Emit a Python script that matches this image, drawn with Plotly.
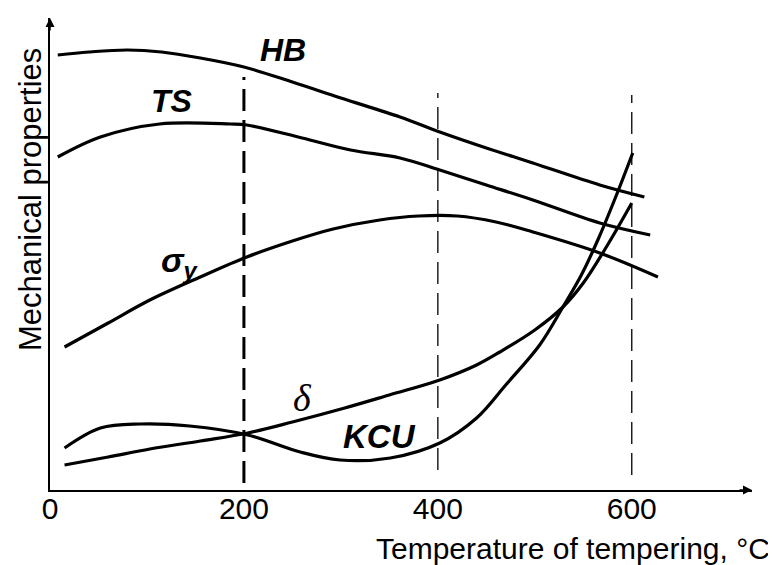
import plotly.graph_objects as go

# ---- data (temperature of tempering, °C ; relative property level) ----
hb_t = [8, 40, 80, 115, 155, 200, 250, 300, 361, 402, 450, 498, 567, 613]
hb_v = [435, 438, 440, 438, 432, 423, 408, 392, 373, 358, 342, 327, 305, 293]

ts_t = [8, 52, 113, 186, 203, 260, 310, 361, 402, 450, 498, 567, 619]
ts_v = [333, 353, 366, 366, 365, 352, 340, 332, 320, 305, 290, 267, 255]

sy_t = [15, 60, 103, 155, 203, 250, 292, 340, 380, 420, 460, 498, 567, 627]
sy_v = [143, 167, 190, 213, 233, 249, 261, 270, 274, 274, 268, 258, 237, 213]

kcu_t = [15, 52, 93, 144, 204, 258, 299, 351, 402, 440, 470, 505, 529, 548, 565, 583, 601]
kcu_v = [42, 62, 66, 64, 55, 38, 30, 32, 47, 72, 105, 145, 183, 215, 250, 292, 337]

d_t = [15, 60, 103, 155, 204, 250, 304, 350, 402, 440, 464, 500, 529, 550, 575, 600]
d_v = [25, 33, 41, 49, 57, 68, 82, 95, 110, 125, 138, 160, 183, 207, 245, 287]

tick_vals = [0, 200, 400, 600]
tick_text = ["0", "200", "400", "600"]

guide_t = [200, 400, 600]
guide_bottom = [7, 20, 15]
guide_top = [413, 397, 395]
guide_width = [3, 1.3, 1.3]

x_max = 724
y_max = 472

SANS = "Liberation Sans, Arial, sans-serif"

fig = go.Figure()

# guide (dashed) lines
for t, b, tp, w in zip(guide_t, guide_bottom, guide_top, guide_width):
    fig.add_trace(go.Scatter(x=[t, t], y=[b, tp], mode="lines",
                             line=dict(color="black", width=w, dash="22px,9px"),
                             hoverinfo="skip", showlegend=False))

for tt, vv in [(hb_t, hb_v), (ts_t, ts_v), (sy_t, sy_v), (kcu_t, kcu_v), (d_t, d_v)]:
    fig.add_trace(go.Scatter(x=tt, y=vv, mode="lines",
                             line=dict(color="black", width=3.2, shape="spline", smoothing=1.0),
                             showlegend=False))

annotations = [
    # arrow heads at the axis ends
    dict(x=x_max, y=0, ax=-14, ay=0, xref="x", yref="y",
         showarrow=True, arrowhead=2, arrowsize=1.2, arrowwidth=1.5, arrowcolor="black", text=""),
    dict(x=0, y=y_max, ax=0, ay=14, xref="x", yref="y",
         showarrow=True, arrowhead=2, arrowsize=1.2, arrowwidth=1.5, arrowcolor="black", text=""),
    # curve labels
    dict(x=240, y=440, text="<b><i>HB</i></b>", showarrow=False,
         font=dict(family=SANS, size=32, color="black")),
    dict(x=126, y=389, text="<b><i>TS</i></b>", showarrow=False,
         font=dict(family=SANS, size=32, color="black")),
    dict(x=134, y=228, text="<b><i>σ<sub>y</sub></i></b>", showarrow=False,
         font=dict(family=SANS, size=34, color="black")),
    dict(x=260, y=92, text="<i>δ</i>", showarrow=False,
         font=dict(family="Liberation Serif, Times New Roman, serif", size=38, color="black")),
    dict(x=340, y=54, text="<b><i>KCU</i></b>", showarrow=False,
         font=dict(family=SANS, size=33, color="black")),
    # axis titles
    dict(x=(772 - 50) / 702, y=-(548 - 490) / 472, xref="paper", yref="paper",
         xanchor="right", yanchor="middle", showarrow=False,
         text="Temperature of tempering, °C", font=dict(family=SANS, size=30, color="black")),
    dict(x=-(50 - 30) / 702, y=(490 - 200) / 472, xref="paper", yref="paper",
         xanchor="center", yanchor="middle", showarrow=False, textangle=-90,
         text="Mechanical properties", font=dict(family=SANS, size=31, color="black")),
]

# the page body adds an 8px margin, so the figure is 8px smaller on each side
fig.update_layout(
    width=768, height=557,
    margin=dict(l=42, r=24, t=10, b=75),
    paper_bgcolor="white", plot_bgcolor="white",
    annotations=annotations,
    xaxis=dict(range=[0, x_max], showgrid=False, zeroline=False,
               showline=True, linecolor="black", linewidth=1.5,
               tickvals=tick_vals, ticktext=tick_text, ticks="", ticklabelstandoff=-9,
               tickfont=dict(family=SANS, size=30, color="black")),
    yaxis=dict(range=[0, y_max], showgrid=False, zeroline=False,
               showline=True, linecolor="black", linewidth=1.5,
               showticklabels=False, ticks=""),
)

fig.write_html("out.html")
